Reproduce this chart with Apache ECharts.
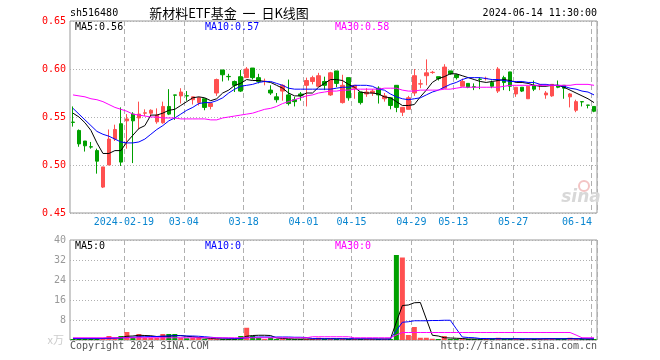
<!DOCTYPE html>
<html><head><meta charset="utf-8">
<script src="https://cdn.jsdelivr.net/npm/echarts/dist/echarts.min.js"></script>
<style>html,body{margin:0;padding:0;background:#fff}#c{width:660px;height:360px}</style>
</head><body><div id="c"></div><script>
const dates = [
'2024-01-29','2024-01-30','2024-01-31','2024-02-01','2024-02-02','2024-02-05','2024-02-06','2024-02-07','2024-02-08',
'2024-02-19','2024-02-20','2024-02-21','2024-02-22','2024-02-23','2024-02-26','2024-02-27','2024-02-28','2024-02-29',
'2024-03-01','2024-03-04','2024-03-05','2024-03-06','2024-03-07','2024-03-08','2024-03-11','2024-03-12','2024-03-13','2024-03-14','2024-03-15',
'2024-03-18','2024-03-19','2024-03-20','2024-03-21','2024-03-22','2024-03-25','2024-03-26','2024-03-27','2024-03-28','2024-03-29',
'2024-04-01','2024-04-02','2024-04-03','2024-04-08','2024-04-09','2024-04-10','2024-04-11','2024-04-12',
'2024-04-15','2024-04-16','2024-04-17','2024-04-18','2024-04-19','2024-04-22','2024-04-23','2024-04-24','2024-04-25','2024-04-26',
'2024-04-29','2024-04-30','2024-05-06','2024-05-07','2024-05-08','2024-05-09','2024-05-10',
'2024-05-13','2024-05-14','2024-05-15','2024-05-16','2024-05-17','2024-05-20','2024-05-21','2024-05-22','2024-05-23','2024-05-24',
'2024-05-27','2024-05-28','2024-05-29','2024-05-30','2024-05-31','2024-06-03','2024-06-04','2024-06-05','2024-06-06','2024-06-07',
'2024-06-11','2024-06-12','2024-06-13','2024-06-14'
];
const labelDates = ['2024-02-19','2024-03-04','2024-03-18','2024-04-01','2024-04-15','2024-04-29','2024-05-13','2024-05-27','2024-06-14'];

const opens = [
0.5447,0.536,0.525,0.5190,0.515,0.477,0.500,0.527,0.543,0.546,
0.553,0.549,0.5540,0.554,0.545,0.544,0.561,0.5730,0.572,0.5722,
0.568,0.565,0.569,0.561,0.575,0.599,0.5923,0.587,0.592,0.591,
0.601,0.591,0.5870,0.578,0.571,0.577,0.573,0.568,0.574,0.583,
0.587,0.582,0.587,0.573,0.598,0.565,0.591,0.580,0.576,0.574,
0.575,0.580,0.569,0.570,0.583,0.555,0.558,0.575,0.5843,0.593,
0.5963,0.592,0.580,0.598,0.594,0.582,0.585,0.5815,0.5895,0.5900,
0.586,0.577,0.591,0.597,0.574,0.581,0.569,0.583,0.5832,0.573,
0.572,0.583,0.583,0.571,0.557,0.5660,0.5625,0.561
];
const closes = [
0.5444,0.522,0.520,0.5187,0.504,0.498,0.527,0.537,0.503,0.548,
0.546,0.553,0.5543,0.557,0.552,0.561,0.553,0.5727,0.576,0.5719,
0.571,0.570,0.560,0.564,0.589,0.594,0.5920,0.583,0.577,0.600,
0.591,0.587,0.5873,0.575,0.568,0.583,0.564,0.566,0.572,0.588,
0.591,0.593,0.583,0.596,0.585,0.583,0.570,0.583,0.565,0.576,
0.577,0.573,0.572,0.562,0.560,0.560,0.570,0.593,0.5846,0.596,
0.5966,0.590,0.602,0.595,0.591,0.587,0.581,0.5812,0.5892,0.5903,
0.582,0.600,0.586,0.582,0.581,0.577,0.582,0.579,0.5835,0.575,
0.584,0.581,0.580,0.574,0.566,0.5657,0.5622,0.556
];
const lows = [
0.540,0.519,0.514,0.517,0.491,0.476,0.500,0.525,0.499,0.517,
0.502,0.537,0.551,0.550,0.543,0.543,0.552,0.547,0.564,0.567,
0.563,0.562,0.557,0.558,0.572,0.587,0.588,0.576,0.576,0.591,
0.589,0.585,0.583,0.573,0.565,0.567,0.562,0.561,0.567,0.561,
0.584,0.582,0.578,0.572,0.581,0.564,0.567,0.569,0.563,0.571,
0.572,0.564,0.566,0.558,0.555,0.551,0.558,0.572,0.580,0.583,
0.595,0.588,0.580,0.594,0.589,0.582,0.580,0.578,0.579,0.588,
0.580,0.575,0.578,0.577,0.571,0.576,0.569,0.577,0.578,0.569,
0.571,0.580,0.569,0.560,0.555,0.561,0.559,0.555
];
const highs = [
0.561,0.537,0.525,0.524,0.517,0.498,0.537,0.542,0.560,0.553,
0.555,0.566,0.558,0.558,0.559,0.566,0.579,0.573,0.580,0.577,
0.571,0.571,0.569,0.565,0.590,0.599,0.595,0.588,0.599,0.602,
0.601,0.595,0.590,0.583,0.575,0.584,0.589,0.571,0.576,0.591,
0.593,0.596,0.592,0.597,0.598,0.594,0.591,0.583,0.576,0.580,
0.579,0.582,0.575,0.570,0.583,0.560,0.572,0.600,0.589,0.610,
0.598,0.592,0.605,0.598,0.595,0.590,0.585,0.585,0.591,0.592,
0.588,0.602,0.593,0.597,0.581,0.581,0.582,0.588,0.584,0.577,
0.584,0.588,0.583,0.575,0.568,0.566,0.5625,0.561
];
const ma5 = [
0.554,0.550,0.544,0.536,0.523,0.512,0.512,0.515,0.515,0.524,
0.531,0.538,0.541,0.552,0.552,0.554,0.557,0.558,0.562,0.566,
0.570,0.571,0.570,0.567,0.569,0.575,0.578,0.583,0.585,0.589,
0.588,0.588,0.587,0.586,0.583,0.580,0.575,0.572,0.572,0.575,
0.575,0.581,0.585,0.589,0.589,0.588,0.584,0.581,0.576,0.575,
0.575,0.574,0.571,0.570,0.566,0.562,0.562,0.563,0.571,0.578,
0.586,0.590,0.592,0.595,0.595,0.593,0.591,0.589,0.587,0.586,
0.587,0.588,0.589,0.588,0.586,0.586,0.585,0.583,0.582,0.582,
0.583,0.583,0.581,0.578,0.575,0.572,0.569,0.565
];
const ma10 = [
0.559,0.553,0.547,0.541,0.535,0.532,0.530,0.527,0.524,0.523,
0.523,0.524,0.527,0.532,0.537,0.541,0.546,0.549,0.553,0.557,
0.560,0.564,0.565,0.565,0.567,0.570,0.575,0.579,0.582,0.583,
0.584,0.586,0.587,0.587,0.585,0.583,0.580,0.579,0.579,0.579,
0.579,0.579,0.579,0.579,0.580,0.581,0.581,0.583,0.583,0.583,
0.582,0.579,0.578,0.574,0.571,0.569,0.568,0.569,0.570,0.573,
0.576,0.578,0.581,0.584,0.586,0.589,0.591,0.591,0.591,0.590,
0.589,0.589,0.588,0.587,0.587,0.587,0.586,0.586,0.584,0.584,
0.583,0.583,0.582,0.580,0.579,0.577,0.576,0.573
];
const ma30 = [
0.573,0.572,0.571,0.569,0.568,0.566,0.563,0.560,0.558,0.556,
0.553,0.552,0.551,0.550,0.550,0.549,0.549,0.549,0.548,0.548,
0.548,0.548,0.548,0.547,0.547,0.549,0.550,0.551,0.552,0.553,
0.554,0.556,0.558,0.559,0.561,0.564,0.566,0.568,0.570,0.572,
0.573,0.575,0.576,0.577,0.577,0.578,0.578,0.579,0.579,0.579,
0.579,0.579,0.580,0.580,0.580,0.578,0.577,0.577,0.578,0.578,
0.578,0.578,0.579,0.579,0.580,0.581,0.581,0.581,0.581,0.581,
0.581,0.581,0.582,0.583,0.583,0.583,0.583,0.583,0.583,0.583,
0.583,0.583,0.583,0.583,0.584,0.584,0.584,0.583
];
const volumes = [
0.4,0.4,0.4,0.4,0.5,0.7,1.6,0.5,1.6,3.2,
0.9,2.4,0.9,0.9,0.9,2.4,2.4,2.4,0.9,0.7,
0.9,0.9,0.4,0.4,0.4,0.4,0.4,0.4,1.6,4.9,
1.6,0.9,0.4,0.9,0.4,0.4,0.4,0.4,0.4,0.4,
0.4,0.9,0.4,0.4,0.4,0.4,0.4,0.4,0.4,0.4,
0.4,0.4,0.4,0.4,34,33,2,5.2,0.9,0.9,
0.5,0.4,1.6,0.4,0.4,0.4,0.4,0.4,0.4,0.4,
0.4,0.9,0.4,0.4,0.4,0.4,0.4,0.4,0.4,0.4,
0.5,0.4,0.4,0.9,0.4,0.4,0.4,0.4
];
const volMa5 = [
0.5,0.5,0.5,0.5,0.5,0.6,0.8,0.8,1.0,1.5,
1.6,1.9,1.8,1.7,1.4,1.5,1.5,1.8,1.8,1.5,
1.3,1.0,0.8,0.6,0.5,0.4,0.4,0.4,0.6,1.5,
1.8,1.9,1.9,1.8,0.8,0.6,0.5,0.4,0.4,0.4,
0.4,0.5,0.5,0.5,0.5,0.5,0.4,0.4,0.4,0.4,
0.4,0.4,0.4,0.4,7.2,13.8,14.0,14.9,15.0,8.4,
1.9,1.6,0.9,0.8,0.7,0.6,0.4,0.4,0.4,0.4,
0.5,0.5,0.5,0.5,0.5,0.4,0.4,0.4,0.4,0.5,
0.5,0.5,0.5,0.6,0.5,0.5,0.4,0.4
];
const volMa10 = [
0.6,0.6,0.6,0.6,0.6,0.6,0.7,0.7,0.8,1.0,
1.1,1.3,1.3,1.4,1.4,1.5,1.6,1.7,1.7,1.6,
1.6,1.5,1.3,1.1,0.9,0.8,0.7,0.6,0.6,0.9,
1.1,1.2,1.2,1.2,1.2,1.2,1.2,1.1,1.1,1.0,
0.6,0.5,0.5,0.5,0.5,0.5,0.5,0.5,0.5,0.5,
0.5,0.4,0.4,0.4,3.8,7.1,7.3,7.7,7.7,7.7,
7.8,7.8,7.9,7.9,4.5,1.2,1.0,0.9,0.6,0.6,
0.5,0.5,0.5,0.5,0.5,0.5,0.5,0.5,0.5,0.5,
0.5,0.5,0.5,0.5,0.5,0.5,0.5,0.5
];
const volMa30 = [
0.9,0.9,0.9,0.9,0.9,0.9,0.9,0.9,0.9,0.9,
0.9,0.9,0.9,0.9,0.9,0.9,0.9,0.9,0.9,0.9,
0.9,0.9,0.9,0.9,0.9,0.9,0.9,0.9,0.9,0.9,
0.9,0.9,0.9,0.9,0.9,0.9,0.9,0.9,0.9,0.9,
1.3,1.3,1.3,1.3,1.3,1.3,1.3,0.9,0.9,0.9,
0.9,0.9,0.9,0.9,2.0,3.0,3.0,3.0,3.0,3.0,
3.0,3.0,3.0,3.0,3.0,3.0,3.0,3.0,3.0,3.0,
3.0,3.0,3.0,3.0,3.0,3.0,3.0,3.0,3.0,3.0,
3.0,3.0,3.0,3.0,2.0,0.9,0.9,0.9
];

const UP = '#ff5050', DOWN = '#00a000';
const MONO = 'DejaVu Sans Mono';
const labelSet = new Set(labelDates);
const pick = function (idx, val) { return labelSet.has(val === undefined ? dates[idx] : val); };

const kData = dates.map((d, i) => [opens[i], closes[i], lows[i], highs[i]]);
const volData = volumes.map((v, i) => ({ value: v, itemStyle: { color: closes[i] >= opens[i] ? UP : DOWN } }));

function txt(x, y, text, fill, font, align) {
  return { type: 'text', x: x, y: y, silent: true, z: 100,
    style: { text: text, fill: fill, font: font, align: align || 'left', verticalAlign: 'middle',
             textAlign: align || 'left', textVerticalAlign: 'middle' } };
}

const chart = echarts.init(document.getElementById('c'), null, { renderer: 'canvas' });
const dashV = { show: true, interval: pick, lineStyle: { color: '#b0b0b0', type: [5, 3], width: 1 } };
const dotH = { show: true, lineStyle: { color: '#b0b0b0', type: [1, 2], width: 1 } };

chart.setOption({
  animation: false,
  backgroundColor: '#fff',
  grid: [
    { left: 70, right: 63, top: 21, height: 192, show: true, borderColor: '#999', borderWidth: 1, backgroundColor: 'transparent' },
    { left: 70, right: 63, top: 240, height: 100, show: true, borderColor: '#999', borderWidth: 1, backgroundColor: 'transparent' }
  ],
  xAxis: [
    { type: 'category', gridIndex: 0, data: dates, boundaryGap: true,
      axisLine: { show: false }, axisTick: { show: false, interval: pick },
      splitLine: dashV,
      axisLabel: { interval: pick, margin: 4, color: '#0a86d0', fontFamily: MONO, fontSize: 10,
        formatter: function (v) {
          if (v === labelDates[0]) return '{a|' + v + '}';
          if (v === labelDates[labelDates.length - 1]) return '{b|' + v.slice(5) + '}';
          return '{a|' + v.slice(5) + '}';
        },
        rich: {
          a: { padding: [0, 6, 0, 0], color: '#0a86d0', fontFamily: MONO, fontSize: 10 },
          b: { padding: [0, 34, 0, 0], color: '#0a86d0', fontFamily: MONO, fontSize: 10 }
        } } },
    { type: 'category', gridIndex: 1, data: dates, boundaryGap: true,
      axisLine: { show: false }, axisTick: { show: false, interval: pick },
      splitLine: dashV, axisLabel: { show: false, interval: pick } }
  ],
  yAxis: [
    { type: 'value', gridIndex: 0, min: 0.45, max: 0.65, interval: 0.05,
      axisLine: { show: false }, axisTick: { show: false }, splitLine: dotH,
      axisLabel: { margin: 4, color: '#ff0000', fontFamily: MONO, fontSize: 10, formatter: v => v.toFixed(2) } },
    { type: 'value', gridIndex: 1, min: 0, max: 40, interval: 8,
      axisLine: { show: false }, axisTick: { show: false }, splitLine: dotH,
      axisLabel: { margin: 4, color: '#999', fontFamily: MONO, fontSize: 10, formatter: v => (v === 0 ? '' : String(v)) } }
  ],
  series: [
    { type: 'candlestick', xAxisIndex: 0, yAxisIndex: 0, data: kData, barWidth: 4,
      itemStyle: { color: UP, color0: DOWN, borderColor: UP, borderColor0: DOWN, borderWidth: 1 } },
    { type: 'line', xAxisIndex: 0, yAxisIndex: 0, data: ma5, showSymbol: false, silent: true, z: 5, lineStyle: { color: '#000', width: 1 } },
    { type: 'line', xAxisIndex: 0, yAxisIndex: 0, data: ma10, showSymbol: false, silent: true, z: 5, lineStyle: { color: '#0000ff', width: 1 } },
    { type: 'line', xAxisIndex: 0, yAxisIndex: 0, data: ma30, showSymbol: false, silent: true, z: 5, lineStyle: { color: '#ff00ff', width: 1 } },
    { type: 'bar', xAxisIndex: 1, yAxisIndex: 1, data: volData, barWidth: 5 },
    { type: 'line', xAxisIndex: 1, yAxisIndex: 1, data: volMa5, showSymbol: false, silent: true, z: 5, lineStyle: { color: '#000', width: 1 } },
    { type: 'line', xAxisIndex: 1, yAxisIndex: 1, data: volMa10, showSymbol: false, silent: true, z: 5, lineStyle: { color: '#0000ff', width: 1 } },
    { type: 'line', xAxisIndex: 1, yAxisIndex: 1, data: volMa30, showSymbol: false, silent: true, z: 5, lineStyle: { color: '#ff00ff', width: 1 } }
  ],
  graphic: [
    txt(70, 13, 'sh516480', '#000', '10px ' + MONO),
    txt(229, 13, '新材料ETF基金  一  日K线图', '#000', '13px "Noto Sans CJK SC"', 'center'),
    txt(597, 13, '2024-06-14 11:30:00', '#000', '10px ' + MONO, 'right'),
    txt(75, 27, 'MA5:0.56', '#000', '10px ' + MONO),
    txt(205, 27, 'MA10:0.57', '#0000ff', '10px ' + MONO),
    txt(335, 27, 'MA30:0.58', '#ff00ff', '10px ' + MONO),
    txt(75, 246, 'MA5:0', '#000', '10px ' + MONO),
    txt(205, 246, 'MA10:0', '#0000ff', '10px ' + MONO),
    txt(335, 246, 'MA30:0', '#ff00ff', '10px ' + MONO),
    txt(64, 340, 'x万', '#ccc', '11px "Noto Sans CJK SC"', 'right'),
    txt(70, 346, 'Copyright 2024 SINA.COM', '#555', '10px ' + MONO),
    txt(597, 346, 'http://finance.sina.com.cn', '#555', '10px ' + MONO, 'right'),
    { type: 'circle', shape: { cx: 584, cy: 186, r: 5 }, silent: true, z: 1, style: { fill: 'none', stroke: '#f3c4c4', lineWidth: 2 } },
    txt(581, 198, 'sina', '#d8d8d8', 'italic bold 17px "DejaVu Sans"', 'center')
  ]
});
</script></body></html>
